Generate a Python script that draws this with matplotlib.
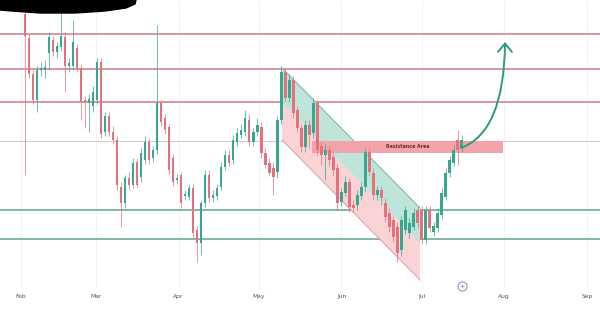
import numpy as np
import matplotlib.pyplot as plt
from matplotlib.patches import Polygon, FancyArrowPatch, Rectangle
from matplotlib.path import Path

# candle data (one candle every 1.5 days, starting early Feb)
opens = [286, 262, 226, 200, 230, 230, 247, 260, 248, 253,
         263, 234, 234, 252, 232, 200, 197, 194, 200, 238,
         168, 184, 168, 160, 113, 97, 122, 115, 138, 123,
         140, 158, 142, 150, 197, 182, 173, 142, 120, 125,
         104, 103, 112, 70, 57, 97, 125, 102, 104, 113,
         133, 145, 140, 158, 165, 168, 180, 158, 168, 173,
         147, 137, 132, 128, 180, 228, 202, 220, 190, 172,
         153, 175, 167, 197, 154, 145, 150, 143, 132, 98,
         107, 118, 95, 95, 104, 113, 148, 127, 105, 110,
         97, 87, 80, 73, 50, 70, 67, 73, 90, 90,
         60, 90, 68, 72, 85, 103, 127, 137, 160, 152]
closes = [264, 226, 200, 230, 232, 233, 263, 248, 254, 264,
          234, 237, 258, 232, 198, 197, 201, 208, 238, 166,
          184, 168, 160, 115, 97, 122, 115, 137, 115, 147,
          158, 140, 150, 197, 178, 170, 130, 118, 122, 97,
          106, 112, 67, 57, 97, 125, 102, 105, 112, 133,
          145, 137, 160, 167, 170, 182, 158, 168, 175, 147,
          135, 127, 123, 180, 228, 202, 220, 187, 172, 153,
          175, 165, 197, 150, 145, 150, 140, 130, 97, 108,
          118, 93, 92, 105, 113, 148, 128, 105, 110, 102,
          83, 73, 63, 47, 80, 90, 77, 87, 77, 60,
          90, 72, 74, 87, 107, 127, 140, 150, 150, 160]
highs = [320, 266, 230, 234, 238, 240, 268, 264, 258, 298,
         268, 242, 280, 256, 236, 204, 206, 214, 242, 242,
         188, 188, 174, 164, 118, 125, 128, 142, 142, 152,
         164, 162, 154, 275, 200, 186, 176, 146, 126, 128,
         110, 116, 116, 74, 100, 130, 130, 110, 116, 138,
         150, 150, 165, 172, 176, 190, 186, 172, 182, 178,
         152, 142, 138, 184, 234, 232, 226, 224, 194, 176,
         180, 180, 202, 200, 158, 156, 154, 148, 136, 112,
         124, 122, 100, 110, 118, 152, 152, 132, 114, 114,
         102, 92, 84, 78, 84, 94, 82, 92, 94, 94,
         94, 94, 78, 92, 112, 132, 144, 155, 170, 165]
lows = [125, 222, 196, 188, 224, 222, 230, 244, 242, 250,
        208, 228, 230, 228, 180, 172, 168, 188, 196, 162,
        164, 164, 156, 110, 73, 92, 110, 112, 112, 118,
        136, 136, 138, 146, 174, 166, 126, 114, 116, 92,
        100, 100, 62, 38, 45, 93, 98, 98, 100, 110,
        130, 134, 136, 154, 162, 164, 154, 154, 164, 142,
        132, 124, 105, 122, 176, 198, 198, 182, 168, 148,
        148, 152, 162, 145, 135, 120, 134, 124, 90, 94,
        104, 88, 88, 90, 100, 108, 124, 100, 100, 95,
        78, 68, 58, 38, 44, 66, 62, 70, 72, 56,
        56, 68, 64, 68, 81, 100, 123, 134, 135, 148]

red_levels = [266, 231, 198]
green_levels = [90, 61]
gray_level = 159

month_days = [32, 60, 91, 121, 152, 182, 213, 244]
month_labels = ['Feb', 'Mar', 'Apr', 'May', 'Jun', 'Jul', 'Aug', 'Sep']

# channel corners (day, price)
chan_x = [129.75, 181.44]
chan_top = [232, 92]
chan_mid = [197, 57]
chan_bot = [160, 20]

res_x = [141.0, 212.5]
res_y = [147, 159]

arrow_pts = [(196.8, 152), (212.9, 168), (213.3, 258)]

RED = '#e4717d'
TEAL = '#37a88e'

fig = plt.figure(figsize=(6, 3.15), dpi=100)
ax = fig.add_axes([0, 27 / 315, 1, 288 / 315])
ax.set_xlim(24.13, 248.85)
ax.set_ylim(12, 300)
for s in ax.spines.values():
    s.set_visible(False)

# grid
for d in month_days:
    ax.axvline(d, color='#f1f1f1', lw=0.6, zorder=0)
ax.axhline(gray_level, color='#cfcfcf', lw=0.8, zorder=0)

# levels
for lv in red_levels:
    ax.axhline(lv, color='#cf8790', lw=1.2, zorder=1)
for lv in green_levels:
    ax.axhline(lv, color='#6aac98', lw=1.2, zorder=1)

# channel
ax.fill([chan_x[0], chan_x[1], chan_x[1], chan_x[0]],
        [chan_top[0], chan_top[1], chan_mid[1], chan_mid[0]],
        color='#bfe5da', lw=0, zorder=1)
ax.fill([chan_x[0], chan_x[1], chan_x[1], chan_x[0]],
        [chan_mid[0], chan_mid[1], chan_bot[1], chan_bot[0]],
        color='#f9d3d6', lw=0, zorder=1)
ax.plot(chan_x, chan_top, color='#7bbfae', lw=0.8, zorder=1)
ax.plot(chan_x, chan_bot, color='#e5a3a9', lw=0.8, zorder=1)

# resistance area
ax.add_patch(Rectangle((res_x[0], res_y[0]), res_x[1] - res_x[0], res_y[1] - res_y[0],
                       color='#f3a4aa', lw=0, zorder=2))
ax.text((res_x[0] + res_x[1]) / 2, (res_y[0] + res_y[1]) / 2, 'Resistance Area',
        fontsize=3.4, fontweight='bold', color='#6b2d33', ha='center', va='center', zorder=4)

# candles
x = 33.5 + 1.5 * np.arange(len(opens))
o = np.array(opens)
c = np.array(closes)
cols = [TEAL if cc >= oo else RED for oo, cc in zip(o, c)]
ax.vlines(x, lows, highs, colors=cols, lw=0.6, alpha=0.85, zorder=3)
ax.bar(x, np.maximum(np.abs(c - o), 1.5), bottom=np.minimum(o, c), width=0.9,
       color=cols, lw=0, zorder=3)

# projection arrow
path = Path(arrow_pts, [Path.MOVETO, Path.CURVE3, Path.CURVE3])
ax.add_patch(FancyArrowPatch(path=path, arrowstyle='->,head_length=0.6,head_width=0.5',
                             mutation_scale=10, color='#2a9d80', lw=1.4, zorder=5))

# small icon
ax.plot(197.2, 14, 'o', ms=6.5, mfc='white', mec='#a98bc8', mew=0.8, clip_on=False, zorder=5)
ax.plot(197.2, 14, '+', ms=2.5, color='#a98bc8', mew=0.6, clip_on=False, zorder=6)

ax.set_yticks([])
ax.set_xticks(month_days)
ax.set_xticklabels(month_labels, fontsize=4.3, color='#555555')
ax.tick_params(axis='x', length=0, pad=4)

# redaction scribble top-left
pts = [(0, 0), (136, 0), (135, 4), (126, 8), (105, 11), (75, 13), (40, 13), (12, 11), (0, 10)]
fig.add_artist(Polygon([(px / 600, 1 - py / 315) for px, py in pts], closed=True,
                       color='black', transform=fig.transFigure))

fig.savefig('out.png', dpi=100, facecolor='white')
